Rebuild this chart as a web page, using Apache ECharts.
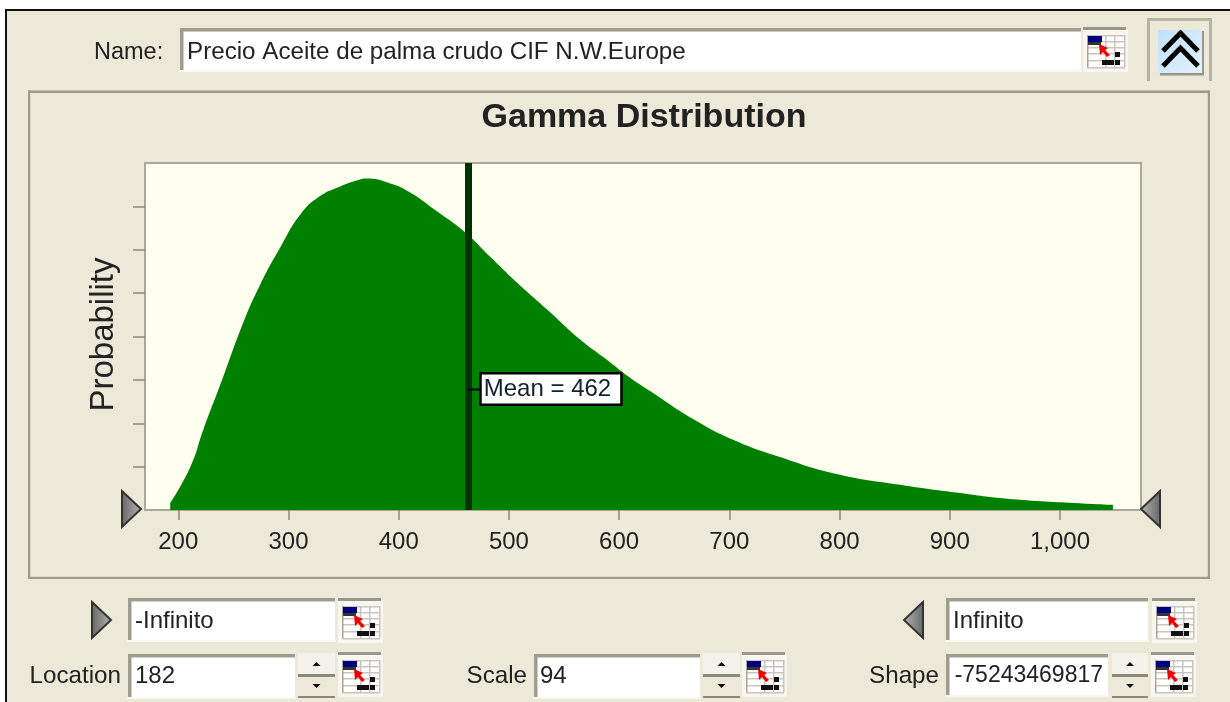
<!DOCTYPE html>
<html><head><meta charset="utf-8">
<style>html,body{margin:0;padding:0;background:#fff}#c{width:1230px;height:702px}</style>
<script src="https://cdn.jsdelivr.net/npm/echarts@6/dist/echarts.min.js"></script>
</head><body><div id="c"></div>
<script>
// ---- chart data ----
const curveX = [192.7,210.9,222.7,240.8,259,274.4,292.5,310.7,327,346.9,365,369.6,392.3,410.4,434.9,460.3,483,507.5,534.7,564.6,589.1,610,630.8,667.1,703.4,746,794,854.9,915.6,957.4,1030,1048];
const curveY = [0.16,0.99,1.85,3.07,4.32,5.20,6.05,6.81,7.21,7.46,7.62,7.64,7.53,7.32,6.88,6.40,5.84,5.24,4.62,3.93,3.46,3.05,2.70,2.10,1.62,1.22,0.85,0.58,0.37,0.25,0.14,0.12];
const xTicks = [200,300,400,500,600,700,800,900,1000];
const yTicks = [1,2,3,4,5,6,7];
const meanValue = 463;
const meanLabel = 'Mean = 462';
const meanLabelY = 2.79;
const titleText = 'Gamma Distribution';
const yName = 'Probability';
const nameText = 'Precio Aceite de palma crudo CIF N.W.Europe';

const FONT = '"Liberation Sans", Arial, sans-serif';
const BG = '#ECE9D8', EDGE = '#9E9B8A', INK = '#222';
const els = [];
const R = (x,y,w,h,fill,z) => els.push({type:'rect',z:z||1,silent:true,shape:{x,y,width:w,height:h},style:{fill}});
const T = (x,y,text,size,align,z) => els.push({type:'text',z:z||3,silent:true,x,y,style:{text,fill:INK,font:size+'px '+FONT,textAlign:align||'left',textVerticalAlign:'middle'}});

// window
R(0,0,1230,702,'#FFFFFF',-5);
R(6,10,1224,692,BG,-4);
R(5,9,1225,2,'#111',-3);
R(5,9,2,693,'#111',-3);
// chart panel frame
R(28,91,1181,487,'#FBFAF4',-3);
R(28,90.5,1181,2.5,EDGE,-2);
R(28,90.5,2.5,488,EDGE,-2);
R(1207.5,90.5,2.5,488,EDGE,-2);
R(28,576.5,1182,2.5,EDGE,-2);
R(30.5,93,1177,483.5,BG,-2);

function input(x,y,w,h){
  R(x,y,w,h,'#FFFFFF',1);
  R(x,y,w,3.5,'#A09D8F',5);
  R(x,y,3.5,h,'#A09D8F',5);
  R(x-1,y+h,w+2,2,'#F8F7F0',5);
}
function icon(x,y){
  R(x,y+3,45,42,'#F7F6F0',1);
  R(x,y,43,3,'#9A978A',2);
  R(x+4,y+8,38,32,'#FFFFFF',2);
  [0,6,12,18,25,32].forEach(d=>R(x+4,y+8+d,38,1.5,'#C8C6BA',3));
  [18,27,37].forEach(d=>R(x+4+d,y+8,1.5,32,'#C8C6BA',3));
  R(x+4,y+8,1.5,32,'#A8A696',3);
  R(x+5,y+9,14,6,'#000080',4);
  R(x+5,y+15,13,3,'#333',4);
  els.push({type:'polygon',z:5,silent:true,shape:{points:[[x+16,y+17],[x+25,y+21],[x+22,y+23],[x+27,y+28],[x+24,y+30],[x+20,y+25],[x+17,y+28]]},style:{fill:'#EE0000'}});
  R(x+32,y+25,5,5,'#111',5);
  R(x+32,y+33,5,5,'#111',5);
  R(x+19,y+33,12,5,'#111',5);
}
function spinner(x,y,w){
  R(x,y,w,21,'#F4F3EA',1);
  R(x,y+21,w,3,'#8C897A',2);
  R(x,y+24,w,19,BG,1);
  R(x,y+43,w,2,'#8C897A',2);
  els.push({type:'polygon',z:3,silent:true,shape:{points:[[x+w/2-4,y+13],[x+w/2+4,y+13],[x+w/2,y+9]]},style:{fill:'#111'}});
  els.push({type:'polygon',z:3,silent:true,shape:{points:[[x+w/2-4,y+31],[x+w/2+4,y+31],[x+w/2,y+35]]},style:{fill:'#111'}});
}
function tri(tipX,baseX,midY){
  els.push({type:'polygon',z:50,silent:true,shape:{points:[[baseX,midY-18],[tipX,midY],[baseX,midY+18]]},
    style:{stroke:'#333',lineWidth:2,fill:{type:'linear',x:0,y:0,x2:1,y2:0,colorStops:tipX>baseX?[{offset:0,color:'#666'},{offset:1,color:'#B5B5B5'}]:[{offset:0,color:'#B5B5B5'},{offset:1,color:'#666'}]}}});
}
// top row
T(94,53,'Name:',23.5);
input(180,28,901,42);
T(187,52,nameText,24.2);
icon(1083,27);
R(1147,18,3,63,'#B4B2A2',1);R(1147,18,65,3,'#B4B2A2',1);R(1209,18,3,63,'#B4B2A2',1);
els.push({type:'rect',z:2,silent:true,shape:{x:1158,y:30,width:45,height:44},style:{stroke:null,fill:{type:'linear',x:0,y:0,x2:1,y2:1,colorStops:[{offset:0,color:'#BFE0F8'},{offset:1,color:'#E4F3FE'}]}}});
R(1160,73,44,2.5,'#9A978A',3);R(1202,31,2,44,'#9A978A',3);
[[33,51],[48,66]].forEach(p=>els.push({type:'polyline',z:4,silent:true,shape:{points:[[1163,p[1]],[1180.5,p[0]],[1198,p[1]]]},style:{stroke:'#000',lineWidth:5,fill:null}}));
// chart handles
tri(141,122,509);
tri(1141,1160,509);
// bottom rows
tri(111,92,620);
tri(904,923,620);
input(128,598,207,42);T(135,621,'-Infinito',24);icon(338,598);
input(946,598,202,42);T(953,621,'Infinito',24);icon(1152,598);
T(121,676,'Location',24.2,'right');input(128,654,167,43);T(135,676,'182',24);spinner(298,653,37);icon(338,652);
T(527,676,'Scale',24.2,'right');input(534,654,166,43);T(540,676,'94',24);spinner(703,653,37);icon(742,652);
T(939,676,'Shape',24.2,'right');input(946,654,162,41);T(1103,676,'-75243469817',23,'right',3);spinner(1112,653,36);icon(1151,652);

const chart = echarts.init(document.getElementById('c'),null,{renderer:'canvas'});
chart.setOption({
  animation:false,
  textStyle:{fontFamily:FONT},
  title:{text:titleText,left:639,top:96,textAlign:'center',textStyle:{fontFamily:FONT,fontSize:34,fontWeight:'bold',color:'#222'}},
  graphic:{elements:els},
  grid:{left:145,top:163,width:996,height:347,show:true,backgroundColor:'#FFFFF0',borderColor:'#ACA899',borderWidth:2},
  xAxis:{type:'value',min:169.8,max:1073.5,splitLine:{show:false},
    axisLine:{show:true,onZero:false,lineStyle:{color:'#ACA899',width:2}},
    axisTick:{show:true,length:10,customValues:xTicks,lineStyle:{color:'#8C897A',width:1.5}},
    axisLabel:{show:true,customValues:xTicks,margin:20,fontSize:24,color:INK,fontFamily:FONT,
      formatter:v=>v>=1000?Math.floor(v/1000)+','+String(v%1000).padStart(3,'0'):String(v)}},
  yAxis:{type:'value',min:0,max:8,interval:1,splitLine:{show:false},name:yName,nameLocation:'middle',nameGap:25,
    nameTextStyle:{fontSize:33,color:INK,fontFamily:FONT,padding:[0,0,0,4]},
    axisLine:{show:true,lineStyle:{color:'#ACA899',width:2}},
    axisTick:{show:true,length:12,customValues:yTicks,lineStyle:{color:'#8C897A',width:1.5}},
    axisLabel:{show:false}},
  series:[{type:'line',data:curveX.map((x,i)=>[x,curveY[i]]),showSymbol:false,symbol:'none',smooth:0.5,
    lineStyle:{width:0},areaStyle:{color:'#008000',opacity:1},itemStyle:{color:'#008000'},silent:true,z:3,
    markLine:{silent:true,symbol:'none',animation:false,z:4,label:{show:false},
      data:[
        {xAxis:meanValue,lineStyle:{color:'#003300',width:7,type:'solid'}},
        [{coord:[meanValue,meanLabelY],lineStyle:{color:'#111',width:2.5,type:'solid'}},{coord:[474,meanLabelY]}]
      ]},
    markPoint:{silent:true,symbol:'rect',symbolSize:1,animation:false,z:6,itemStyle:{color:'transparent'},
      data:[{coord:[474,meanLabelY],value:meanLabel,
        label:{show:true,position:'right',distance:1,formatter:meanLabel,fontFamily:FONT,fontSize:24,color:'#123',backgroundColor:'#FFFFFF',borderColor:'#000',borderWidth:2.5,padding:[3,9,2,2]}}]}
  }]
});
</script></body></html>
